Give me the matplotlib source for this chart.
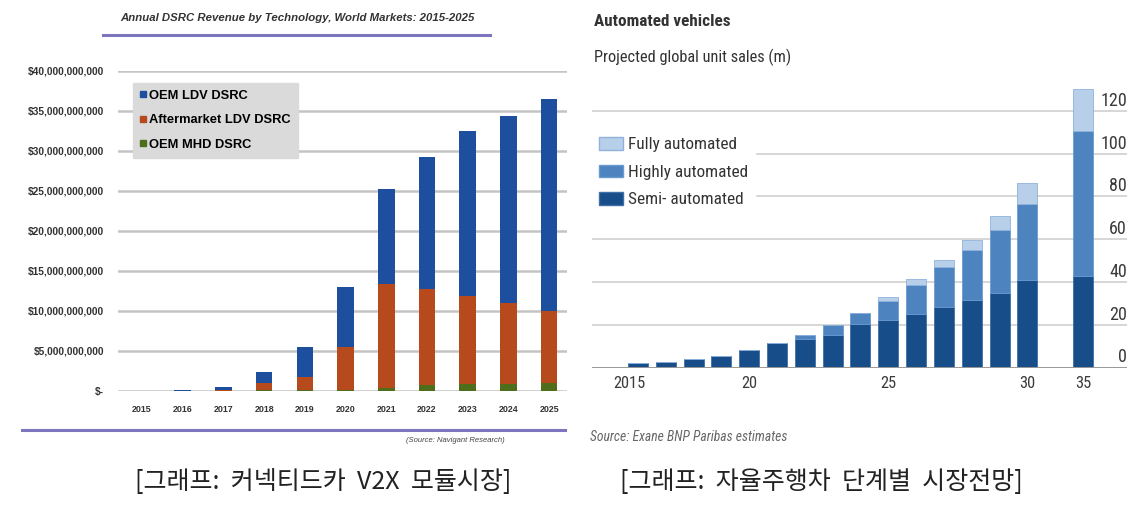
import matplotlib
matplotlib.use('Agg')
import matplotlib.pyplot as plt
from matplotlib import font_manager
from matplotlib.transforms import ScaledTranslation
from matplotlib.lines import Line2D
from matplotlib.patches import Patch
import numpy as np

# --- left chart: annual DSRC revenue (billions of $), stacked segments
dsrc_years = ['2015', '2016', '2017', '2018', '2019', '2020',
              '2021', '2022', '2023', '2024', '2025']
oem_mhd = [0, 0, 0.01, 0.05, 0.08, 0.12, 0.3, 0.7, 0.9, 0.9, 1.0]
aftermarket_ldv = [0, 0.02, 0.04, 0.87, 1.67, 5.38, 13.0, 12.0, 10.9, 10.1, 9.0]
oem_ldv = [0, 0.03, 0.37, 1.41, 3.75, 7.5, 11.9, 16.55, 20.7, 23.4, 26.5]
dsrc_ticks = [0, 5, 10, 15, 20, 25, 30, 35, 40]
dsrc_ticklabels = ['$-', '$5,000,000,000', '$10,000,000,000', '$15,000,000,000',
                   '$20,000,000,000', '$25,000,000,000', '$30,000,000,000',
                   '$35,000,000,000', '$40,000,000,000']

# --- right chart: automated vehicle unit sales (m)
av_years = [2016, 2017, 2018, 2019, 2020, 2021, 2022, 2023, 2024, 2025,
            2026, 2027, 2028, 2029, 2030, 2035]
semi = [1.9, 2.6, 4.2, 5.6, 8.1, 11.3, 13.5, 15.2, 20.5, 22.3,
        24.8, 28.2, 31.8, 34.9, 41.1, 42.9]
highly = [0, 0, 0, 0, 0, 0, 1.5, 4.5, 4.9, 9.0,
          14.0, 18.9, 23.2, 29.3, 35.5, 67.8]
fully = [0, 0, 0, 0, 0, 0, 0, 0, 0, 1.6,
         2.4, 3.1, 4.5, 6.5, 9.6, 19.8]
av_ticks = [0, 20, 40, 60, 80, 100, 120]
av_xlabels = ['2015', '20', '25', '30', '35']

W, H = 1146, 509

def pick(*names):
	have = set(f.name for f in font_manager.fontManager.ttflist)
	for n in names:
		if n in have:
			return n
	return 'DejaVu Sans'

arial = pick('Liberation Sans', 'Arimo', 'DejaVu Sans')
narrow = pick('Liberation Sans Narrow', 'Roboto Condensed', 'Open Sans Condensed', arial)
kr = ['Noto Sans CJK KR', 'Noto Sans CJK JP', 'Noto Sans CJK SC', 'DejaVu Sans']

def box(x0, y0, x1, y1):
	# pixel box (top-left origin) -> figure fraction
	return [x0 / W, 1 - y1 / H, (x1 - x0) / W, (y1 - y0) / H]

fig = plt.figure(figsize=(W / 100, H / 100), dpi=100)

# ===================== left chart =====================
ax = fig.add_axes(box(118, 70.7, 567, 390.7))
xl = np.arange(len(dsrc_years))
blue, orange, green = '#1d4f9e', '#b64a1c', '#4f6e1c'
b1 = np.array(oem_mhd)
b2 = b1 + np.array(aftermarket_ldv)
ax.bar(xl, oem_mhd, 0.41, color=green, zorder=3)
ax.bar(xl, aftermarket_ldv, 0.41, bottom=b1, color=orange, zorder=3)
ax.bar(xl, oem_ldv, 0.41, bottom=b2, color=blue, zorder=3)
ax.set_xlim(-0.59, 10.44)
ax.set_ylim(0, 40)
ax.set_yticks(dsrc_ticks)
ax.set_yticklabels(dsrc_ticklabels, fontfamily=arial, fontweight='bold', fontsize=7.4, color='#333333')
ax.set_xticks(xl)
ax.set_xticklabels(dsrc_years, fontfamily=arial, fontweight='bold', fontsize=6.4, color='#333333')
ax.tick_params(axis='y', length=0, pad=10)
ax.tick_params(axis='x', length=0, pad=10)
ax.grid(axis='y', color='#c4c4c4', linewidth=1.8, zorder=0)
for s in ax.spines.values():
	s.set_visible(False)
handles = [Line2D([], [], ls='', marker='s', markersize=4, color=c) for c in (blue, orange, green)]
lg = ax.legend(handles, ['OEM LDV DSRC', 'Aftermarket LDV DSRC', 'OEM MHD DSRC'],
			   loc='upper left', bbox_to_anchor=(0.033, 0.962), frameon=True, fancybox=False,
			   facecolor='#dadada', edgecolor='#dadada', framealpha=1,
			   prop={'family': arial, 'weight': 'bold', 'size': 9.3},
			   handlelength=0.45, handletextpad=0.25, labelspacing=0.95, borderpad=0.55,
			   borderaxespad=0)
lg.set_zorder(5)

fig.text(297 / W, 1 - 18 / H, 'Annual DSRC Revenue by Technology, World Markets: 2015-2025',
		 ha='center', va='center', fontsize=8.2, fontweight='bold', fontstyle='italic',
		 fontfamily=arial, color='#333333')
fig.add_artist(Line2D([103 / W, 490 / W], [1 - 35 / H, 1 - 35 / H], color='#7d75bd', linewidth=2.2))
fig.add_artist(Line2D([22 / W, 565 / W], [1 - 430 / H, 1 - 430 / H], color='#7d75bd', linewidth=2.2))
fig.text(455 / W, 1 - 441 / H, '(Source: Navigant Research)', ha='center', va='center',
		 fontsize=5.5, fontstyle='italic', fontfamily=arial, color='#444444')

# ===================== right chart =====================
ax2 = fig.add_axes(box(592, 78.9, 1127, 367.5))
xr = np.arange(len(av_years)).astype(float)
xr[-1] += 1  # gap before 2035
c_semi, c_high, c_full = '#174d89', '#4d84bf', '#b7cfe9'
s1 = np.array(semi)
s2 = s1 + np.array(highly)
ax2.bar(xr, semi, 0.72, color=c_semi, edgecolor='#3f6fa6', linewidth=0.6, zorder=3)
ax2.bar(xr, highly, 0.72, bottom=s1, color=c_high, edgecolor='#6b9ad0', linewidth=0.6, zorder=3)
ax2.bar(xr, fully, 0.72, bottom=s2, color=c_full, edgecolor='#8fb2dc', linewidth=0.6, zorder=3)
ax2.set_xlim(-1.65, 17.58)
ax2.set_ylim(0, 135)
ax2.yaxis.tick_right()
ax2.set_yticks(av_ticks)
ax2.set_yticklabels([str(t) for t in av_ticks], fontfamily=narrow, fontsize=13, color='#3a3a3a')
ax2.tick_params(axis='y', length=0, pad=0)
off = ScaledTranslation(0, 12 / 100, fig.dpi_scale_trans)
for lab in ax2.get_yticklabels():
	lab.set_horizontalalignment('right')
	lab.set_transform(lab.get_transform() + off)
ax2.set_xticks([-0.32, 4, 9, 14, 16])
ax2.set_xticklabels(av_xlabels, fontfamily=narrow, fontsize=11.8, color='#3a3a3a')
ax2.tick_params(axis='x', length=0, pad=6)
ax2.grid(axis='y', color='#d6d6d6', linewidth=1.4, zorder=0)
for s in ax2.spines.values():
	s.set_visible(False)
ax2.axhline(0, color='#9a9a9a', linewidth=1.4, zorder=4)
hs = [Patch(facecolor=c_full, edgecolor='#8fb2dc'),
	  Patch(facecolor=c_high, edgecolor='#6b9ad0'),
	  Patch(facecolor=c_semi, edgecolor='#3f6fa6')]
lg2 = ax2.legend(hs, ['Fully automated', 'Highly automated', 'Semi- automated'],
				 loc='upper left', bbox_to_anchor=(0, 0.822), frameon=True, fancybox=False,
				 facecolor='white', edgecolor='white', framealpha=1,
				 prop={'family': narrow, 'size': 12.4}, labelcolor='#333333',
				 handlelength=1.4, handleheight=0.75, handletextpad=0.3,
				 labelspacing=0.7, borderpad=0.4, borderaxespad=0)
lg2.set_zorder(5)

fig.text(594 / W, 1 - 22 / H, 'Automated vehicles', ha='left', va='center',
		 fontsize=12.3, fontweight='bold', fontfamily=narrow, color='#333333')
fig.text(594 / W, 1 - 57 / H, 'Projected global unit sales (m)', ha='left', va='center',
		 fontsize=11.8, fontfamily=narrow, color='#333333')
fig.text(590 / W, 1 - 437 / H, 'Source: Exane BNP Paribas estimates', ha='left', va='center',
		 fontsize=9.8, fontstyle='italic', fontfamily=narrow, color='#666666')

# ===================== captions =====================
fig.text(323 / W, 1 - 482 / H, '[그래프:  커넥티드카  V2X  모듈시장]', ha='center', va='center',
		 fontsize=18, fontweight='medium', family=kr, color='#222222')
fig.text(821 / W, 1 - 482 / H, '[그래프:  자율주행차  단계별  시장전망]', ha='center', va='center',
		 fontsize=18, fontweight='medium', family=kr, color='#222222')

fig.savefig('out.png', dpi=100, facecolor='white')
